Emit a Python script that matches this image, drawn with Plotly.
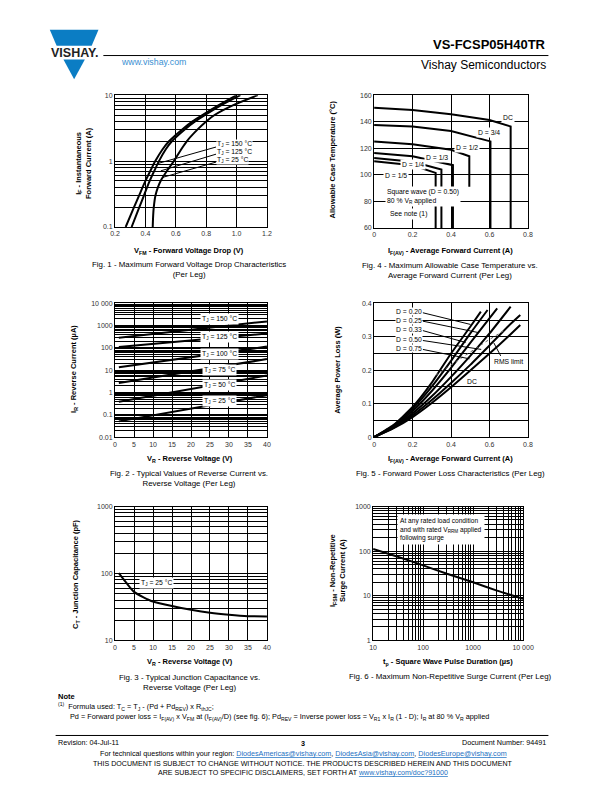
import plotly.graph_objects as go

W, H = 612, 792
def px(x): return x / W
def py(y): return 1 - y / H

FONT = "Liberation Sans"
BLUE = "#0b7dc4"

# ---------------- DATA ----------------
# Fig. 1 - forward voltage drop
fig1_if = [0.1, 0.2, 0.3, 0.5, 0.7, 1.0, 1.5, 2.0, 3.0, 4.0, 5.0, 7.0, 10]
fig1_vf_150 = [0.270, 0.325, 0.358, 0.400, 0.431, 0.465, 0.512, 0.555, 0.640, 0.710, 0.775, 0.880, 1.000]
fig1_vf_125 = [0.309, 0.360, 0.390, 0.428, 0.457, 0.489, 0.533, 0.574, 0.657, 0.727, 0.792, 0.897, 1.025]
fig1_if_25 = [0.1, 0.15, 0.2, 0.3, 0.4, 0.5, 0.7, 1.0, 1.5, 2.0, 3.0, 4.0, 5.0, 7.0, 10]
fig1_vf_25 = [0.448, 0.451, 0.455, 0.466, 0.482, 0.500, 0.540, 0.587, 0.635, 0.672, 0.742, 0.800, 0.855, 0.975, 1.140]
fig1_labels = ["T<sub>J</sub> = 150 °C", "T<sub>J</sub> = 125 °C", "T<sub>J</sub> = 25 °C"]
fig1_xticks = [0.2, 0.4, 0.6, 0.8, 1.0, 1.2]
fig1_xticktext = ["0.2", "0.4", "0.6", "0.8", "1.0", "1.2"]
fig1_yticks = [0.1, 1, 10]
fig1_yticktext = ["0.1", "1", "10"]

# Fig. 2 - reverse current
fig2_vr = [1, 40]
fig2_ir = {
    "150": [286, 1550],
    "125": [111, 444],
    "100": [13.5, 115],
    "75": [2.67, 31.6],
    "50": [0.39, 5.8],
    "25": [0.051, 0.76],
}
fig2_yticks = [0.01, 0.1, 1, 10, 100, 1000, 10000]
fig2_yticktext = ["0.01", "0.1", "1", "10", "100", "1000", "10 000"]

# Fig. 3 - junction capacitance
fig3_vr = [1, 2, 3, 5, 7.5, 10, 15, 20, 25, 30, 35, 40]
fig3_ct = [101, 85, 72, 53, 44, 38, 32.5, 28.6, 25.8, 24.1, 23, 22.8]
fig3_yticks = [10, 100, 1000]
fig3_yticktext = ["10", "100", "1000"]

# Fig. 4 - allowable case temperature
fig4_series = {
    "DC": ([0, 0.2, 0.4, 0.6, 0.71, 0.71], [150.5, 148.8, 145.6, 141.3, 136.4, 60]),
    "D = 3/4": ([0, 0.2, 0.4, 0.605, 0.605], [137.6, 136.4, 133.1, 125.2, 60]),
    "D = 1/2": ([0, 0.2, 0.4, 0.495, 0.495], [125.2, 123.1, 118.9, 114, 91]),
    "D = 1/3": ([0, 0.2, 0.41, 0.41], [116.5, 114, 107.3, 60]),
    "D = 1/4": ([0, 0.2, 0.35, 0.35], [112.7, 109.8, 104, 60]),
    "D = 1/5": ([0, 0.2, 0.32, 0.32], [110.2, 107.3, 101.5, 60]),
}

# Fig. 5 - forward power loss
fig5_series = {
    "D = 0.20": ([0, 0.1, 0.2, 0.3, 0.4, 0.5, 0.555], [0, 0.036, 0.09, 0.163, 0.25, 0.33, 0.375]),
    "D = 0.25": ([0, 0.1, 0.2, 0.3, 0.4, 0.5, 0.59], [0, 0.034, 0.085, 0.151, 0.228, 0.31, 0.38]),
    "D = 0.33": ([0, 0.1, 0.2, 0.3, 0.4, 0.5, 0.64], [0, 0.032, 0.078, 0.138, 0.207, 0.282, 0.385]),
    "D = 0.50": ([0, 0.1, 0.2, 0.3, 0.4, 0.5, 0.6, 0.71], [0, 0.030, 0.071, 0.122, 0.18, 0.243, 0.31, 0.39]),
    "D = 0.75": ([0, 0.1, 0.2, 0.3, 0.4, 0.5, 0.6, 0.7, 0.76], [0, 0.028, 0.065, 0.111, 0.162, 0.216, 0.274, 0.333, 0.365]),
    "DC": ([0, 0.1, 0.2, 0.3, 0.4, 0.5, 0.6, 0.7, 0.76], [0, 0.026, 0.06, 0.102, 0.149, 0.199, 0.25, 0.302, 0.335]),
}
fig5_rms_i = [0.32, 0.45, 0.58, 0.68]
fig5_rms_p = [0.185, 0.235, 0.285, 0.32]

# Fig. 6 - surge current
fig6_tp = [10, 30, 100, 300, 1000, 3000, 10000]
fig6_ifsm = [112, 76, 48, 31, 20, 13, 8.5]
fig6_xticks = [10, 100, 1000, 10000]
fig6_xticktext = ["10", "100", "1000", "10 000"]
fig6_yticks = [1, 10, 100, 1000]
fig6_yticktext = ["1", "10", "100", "1000"]

# ---------------- FIGURE ----------------
fig = go.Figure()
LINE = dict(color="black", width=2)

def add(x, y, n, shape="linear", line=LINE, smoothing=None):
    ln = dict(shape=shape, **line)
    if smoothing is not None:
        ln["smoothing"] = smoothing
    fig.add_trace(go.Scatter(x=x, y=y, mode="lines", line=ln,
                             xaxis="x" if n == 1 else f"x{n}", yaxis="y" if n == 1 else f"y{n}",
                             showlegend=False, hoverinfo="skip"))

add(fig1_vf_150, fig1_if, 1, "spline", smoothing=0.8)
add(fig1_vf_125, fig1_if, 1, "spline", smoothing=0.8)
add(fig1_vf_25, fig1_if_25, 1, "spline", smoothing=0.8)
for k, (x, y) in fig4_series.items():
    add(x, y, 2)
for k, y in fig2_ir.items():
    add(fig2_vr, y, 3)
for k, (x, y) in fig5_series.items():
    add(x, y, 4, "spline", smoothing=0.5)
add(fig5_rms_i, fig5_rms_p, 4, "linear", dict(color="#666", width=1, dash="dot"))
add(fig3_vr, fig3_ct, 5, "spline", smoothing=0.6)
add(fig6_tp, fig6_ifsm, 6, "spline", smoothing=0.5)

tickfont = dict(family=FONT, size=7, color="#333")
GRID = dict(showgrid=True, gridcolor="black", gridwidth=1)
base = dict(showline=True, linecolor="black", linewidth=1, mirror=True, ticks="",
            zeroline=False, fixedrange=True, tickfont=tickfont, **GRID)
logminor = dict(dtick="D1", ticks="", **GRID)

boxes = {
    1: ((113, 269), (92, 225)),
    2: ((379, 537), (92, 226)),
    3: ((113, 269), (302, 437)),
    4: ((379, 537), (302, 437)),
    5: ((113, 269), (507, 642)),
    6: ((378, 532), (507, 642)),
}

def dom(n):
    (x0, x1), (y0, y1) = boxes[n]
    return [px(x0), px(x1)], [py(y1), py(y0)]

axcfg = {
    1: (dict(range=[0.2, 1.2], tickmode="array", tickvals=fig1_xticks, ticktext=fig1_xticktext),
        dict(type="log", range=[-1, 1], tickmode="array", tickvals=fig1_yticks, ticktext=fig1_yticktext, minor=logminor)),
    2: (dict(range=[0, 0.8], dtick=0.2, tick0=0),
        dict(range=[60, 160], dtick=20, tick0=60)),
    3: (dict(range=[0, 40], dtick=5, tick0=0),
        dict(type="log", range=[-2, 4], tickmode="array", tickvals=fig2_yticks, ticktext=fig2_yticktext, minor=logminor)),
    4: (dict(range=[0, 0.8], dtick=0.2, tick0=0),
        dict(range=[0, 0.4], dtick=0.1, tick0=0, minor=dict(dtick=0.05, ticks="", **GRID))),
    5: (dict(range=[0, 40], dtick=5, tick0=0),
        dict(type="log", range=[1, 3], tickmode="array", tickvals=fig3_yticks, ticktext=fig3_yticktext, minor=logminor)),
    6: (dict(type="log", range=[1, 4], tickmode="array", tickvals=fig6_xticks, ticktext=fig6_xticktext, minor=logminor),
        dict(type="log", range=[0, 3], tickmode="array", tickvals=fig6_yticks, ticktext=fig6_yticktext, minor=logminor)),
}

layout_axes = {}
for n, (xc, yc) in axcfg.items():
    xd, yd = dom(n)
    xn = "xaxis" if n == 1 else f"xaxis{n}"
    yn = "yaxis" if n == 1 else f"yaxis{n}"
    layout_axes[xn] = dict(base, domain=xd, anchor="y" if n == 1 else f"y{n}", **xc)
    layout_axes[yn] = dict(base, domain=yd, anchor="x" if n == 1 else f"x{n}", **yc)

fig.update_layout(width=W, height=H, autosize=False, margin=dict(l=0, r=0, t=0, b=0),
                  paper_bgcolor="white", plot_bgcolor="white", showlegend=False, **layout_axes)

ann = []
def text(x, y, s, size=7, xanchor="center", bold=False, color="black", angle=0, bg=None, align=None, pad=1):
    if align is None:
        align = xanchor
    d = dict(x=px(x), y=py(y), xref="paper", yref="paper", text=f"<b>{s}</b>" if bold else s,
             showarrow=False, xanchor=xanchor, yanchor="middle", textangle=angle, align=align,
             font=dict(family=FONT, size=size, color=color))
    if bg:
        d.update(bgcolor=bg, borderpad=pad)
    ann.append(d)

shapes = []
def seg(x0, y0, x1, y1, w=1, color="black"):
    shapes.append(dict(type="line", xref="paper", yref="paper", x0=px(x0), y0=py(y0), x1=px(x1), y1=py(y1),
                       line=dict(color=color, width=w)))

TS = 7.5   # axis title size
CS = 7.9   # caption size
LS = 6.8   # in-plot label size

# Fig 1 texts
text(80.5, 160, "I<sub>F</sub> - Instantaneous<br>Forward Current (A)", TS, bold=True, angle=-90)
text(189, 249, "V<sub>FM</sub> - Forward Voltage Drop (V)", TS, bold=True)
text(189, 268.3, "Fig. 1 - Maximum Forward Voltage Drop Characteristics<br>(Per Leg)", CS)
for lab, yy in zip(fig1_labels, (141.5, 149.8, 157.6)):
    text(217, yy, lab, LS, xanchor="left", bg="white", pad=0)
seg(216.7, 144.3, 156.7, 161)
seg(216.7, 151.5, 160, 168.3)
seg(216.7, 159.5, 161.7, 175)

# Fig 4 texts
text(336.7, 157, "Allowable Case Temperature (°C)", TS, bold=True, angle=-90)
text(457, 249, "I<sub>F(AV)</sub> - Average Forward Current (A)", TS, bold=True)
text(457, 268.5, "Fig. 4 - Maximum Allowable Case Temperature vs.<br>Average Forward Current (Per Leg)", CS)
fig4_pos = {"DC": (516, 115), "D = 3/4": (497, 130), "D = 1/2": (474, 145),
            "D = 1/3": (444, 155), "D = 1/4": (419, 162.3), "D = 1/5": (401, 173.3)}
for k, (xx, yy) in fig4_pos.items():
    text(xx, yy, k, LS, bg="white")
text(390, 194.5, "Square wave (D = 0.50)<br>80 % V<sub>R</sub> applied", LS, xanchor="left", bg="white")
text(393, 211.5, "See note (1)", LS, xanchor="left", bg="white")

# Fig 2 texts
text(71, 368, "I<sub>R</sub> - Reverse Current (µA)", TS, bold=True, angle=-90)
text(190, 459, "V<sub>R</sub> - Reverse Voltage (V)", TS, bold=True)
text(189, 479, "Fig. 2 - Typical Values of Reverse Current vs.<br>Reverse Voltage (Per Leg)", CS)
for k, yy in zip(fig2_ir.keys(), (317.7, 335.7, 353.3, 369, 384.3, 401)):
    text(220.5, yy, f"T<sub>J</sub> = {k} °C", LS, bg="white")

# Fig 5 texts
text(342, 369, "Average Power Loss (W)", TS, bold=True, angle=-90)
text(457, 459, "I<sub>F(AV)</sub> - Average Forward Current (A)", TS, bold=True)
text(457, 474, "Fig. 5 - Forward Power Loss Characteristics (Per Leg)", CS)
fig5_lab_y = (310.5, 319, 328.5, 338.5, 347.5)
fig5_lead_end = ((478, 323.3), (486, 331.5), (473, 341.5), (489, 348.5), (477, 358))
for k, yy, (ex, ey) in zip(list(fig5_series.keys())[:5], fig5_lab_y, fig5_lead_end):
    text(400.5, yy, k, LS, xanchor="left", bg="white", pad=0)
    seg(429, yy + 1, ex, ey)
text(517.5, 360.5, "RMS limit", LS)
seg(509, 355, 502, 342)
text(480, 380.5, "DC", LS)

# Fig 3 texts
text(73, 575, "C<sub>T</sub> - Junction Capacitance (pF)", TS, bold=True, angle=-90)
text(190, 664, "V<sub>R</sub> - Reverse Voltage (V)", TS, bold=True)
text(189, 684.5, "Fig. 3 - Typical Junction Capacitance vs.<br>Reverse Voltage (Per Leg)", CS)
text(156, 584.3, "T<sub>J</sub> = 25 °C", LS, bg="white")

# Fig 6 texts
text(342, 572, "I<sub>FSM</sub> - Non-Repetitive<br>Surge Current (A)", TS, bold=True, angle=-90)
text(455, 664, "t<sub>p</sub> - Square Wave Pulse Duration (µs)", TS, bold=True)
text(457, 679, "Fig. 6 - Maximum Non-Repetitive Surge Current (Per Leg)", CS)
text(403, 530, "At any rated load condition<br>and with rated V<sub>RRM</sub> applied<br>following surge",
     6.6, xanchor="left", bg="white", pad=2)

# Header
shapes.append(dict(type="path", xref="paper", yref="paper", fillcolor=BLUE, line=dict(width=0),
                   path=f"M {px(46)},{py(26)} L {px(96)},{py(26)} L {px(89)},{py(42)} L {px(53)},{py(42)} Z"))
shapes.append(dict(type="path", xref="paper", yref="paper", fillcolor=BLUE, line=dict(width=0),
                   path=f"M {px(60)},{py(56)} L {px(82)},{py(56)} L {px(71)},{py(76)} Z"))
text(71, 49.5, "VISHAY.", 12.5, bold=True, color="#222")
text(117, 59, "www.vishay.com", 8.8, xanchor="left", color="#3a8fd2")
seg(101, 52, 558, 52, 1)
text(558, 41, "VS-FCSP05H40TR", 13, xanchor="right", bold=True)
text(558, 62, "Vishay Semiconductors", 12, xanchor="right")

# Footer
text(52, 699, "Note", 7.5, xanchor="left", bold=True)
text(52, 709, "<sup>(1)</sup>  Formula used: T<sub>C</sub> = T<sub>J</sub> - (Pd + Pd<sub>REV</sub>) x R<sub>thJC</sub>;",
     7.3, xanchor="left")
text(65, 719, "Pd = Forward power loss = I<sub>F(AV)</sub> x V<sub>FM</sub> at (I<sub>F(AV)</sub>/D) (see fig. 6); "
     "Pd<sub>REV</sub> = Inverse power loss = V<sub>R1</sub> x I<sub>R</sub> (1 - D); I<sub>R</sub> at 80 % V<sub>R</sub> applied",
     7.3, xanchor="left")
seg(52, 738, 558, 738, 1)
text(52, 745, "Revision: 04-Jul-11", 7.2, xanchor="left")
text(306, 746, "3", 7.2, bold=True)
text(558, 745, "Document Number: 94491", 7.2, xanchor="right")
L = '<span style="color:#1a6fc2;text-decoration:underline">{}</span>'
text(306, 756, "For technical questions within your region: " + L.format("DiodesAmericas@vishay.com") + ", "
     + L.format("DiodesAsia@vishay.com") + ", " + L.format("DiodesEurope@vishay.com"), 7.2)
text(306, 767, "THIS DOCUMENT IS SUBJECT TO CHANGE WITHOUT NOTICE. THE PRODUCTS DESCRIBED HEREIN AND THIS DOCUMENT", 7.1)
text(306, 776, "ARE SUBJECT TO SPECIFIC DISCLAIMERS, SET FORTH AT " + L.format("www.vishay.com/doc?91000"), 7.1)

fig.update_layout(annotations=ann, shapes=shapes)
fig.write_html("out.html", config={"displayModeBar": False},
               post_script=("document.documentElement.style.margin='0';"
                            "document.documentElement.style.padding='0';"
                            "document.documentElement.style.overflow='hidden';"
                            "document.body.style.margin='0';document.body.style.padding='0';"
                            "document.body.style.overflow='hidden';"))
